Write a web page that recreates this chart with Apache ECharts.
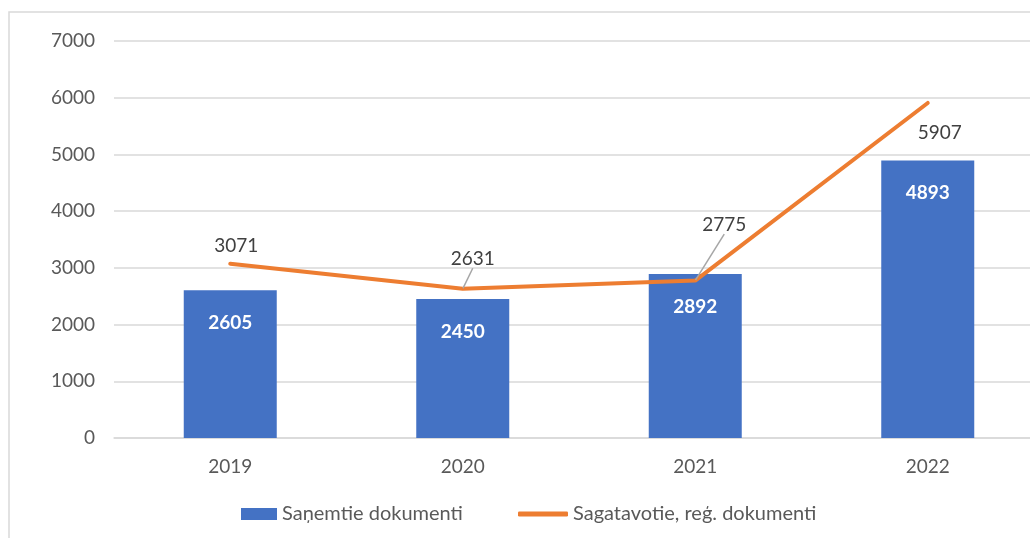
<!DOCTYPE html>
<html>
<head>
<meta charset="utf-8">
<script src="https://cdn.jsdelivr.net/npm/echarts@6/dist/echarts.min.js"></script>
<style>
  html, body { margin: 0; padding: 0; background: #fff; overflow: hidden; }
  #chart { width: 1044px; height: 538px; }
</style>
</head>
<body>
<div id="chart"></div>
<script>
const years = ['2019', '2020', '2021', '2022']
const received = [2605, 2450, 2892, 4893]
const prepared = [3071, 2631, 2775, 5907]
const yTicks = [0, 1000, 2000, 3000, 4000, 5000, 6000, 7000]

const receivedName = 'Saņemtie dokumenti'
const preparedName = 'Sagatavotie, reģ. dokumenti'

// label nudges for the line, like the moved labels in the original
const lineLabelShift = [[6, -8], [10, -20], [29, -46], [12, 40]]
const withLeader = [false, true, true, false]

const font = 'Lato, "Open Sans", sans-serif'
const grey = '#595959'

const chart = echarts.init(document.getElementById('chart'))

chart.setOption({
    backgroundColor: '#fff',
    textStyle: { fontFamily: font },
    graphic: [{
        type: 'rect',
        shape: { x: 9, y: 12, width: 1060, height: 560 },
        style: { fill: 'none', stroke: '#d9d9d9', lineWidth: 1.5 },
        silent: true
    }],
    legend: [
        {
            left: 241,
            bottom: 14,
            padding: 0,
            itemWidth: 36,
            itemHeight: 12,
            textStyle: { color: grey, fontSize: 20, fontFamily: font },
            data: [{ name: receivedName, icon: 'rect' }]
        },
        {
            left: 518,
            bottom: 14,
            padding: 0,
            itemWidth: 50,
            itemHeight: 5,
            textStyle: { color: grey, fontSize: 20, fontFamily: font },
            data: [{ name: preparedName, icon: 'roundRect' }]
        }
    ],
    grid: { left: 114, right: 0, top: 41, bottom: 100 },
    xAxis: {
        type: 'category',
        data: years,
        axisTick: { show: false },
        axisLine: { lineStyle: { color: '#d9d9d9', width: 1.5 } },
        axisLabel: { color: grey, fontSize: 19, margin: 19 }
    },
    yAxis: {
        type: 'value',
        min: yTicks[0],
        max: yTicks[yTicks.length - 1],
        interval: 1000,
        axisLine: { show: false },
        axisTick: { show: false },
        axisLabel: { color: grey, fontSize: 19, margin: 19, formatter: v => String(v) },
        splitLine: { lineStyle: { color: '#d9d9d9', width: 1.5 } }
    },
    series: [
        {
            name: receivedName,
            type: 'bar',
            data: received,
            barWidth: '40%',
            itemStyle: { color: '#4472C4' },
            label: {
                show: true,
                position: 'insideTop',
                distance: 23,
                color: '#fff',
                fontWeight: 'bold',
                fontSize: 19
            }
        },
        {
            name: preparedName,
            type: 'line',
            data: prepared.map((v, i) => ({ value: v, labelLine: { show: withLeader[i] } })),
            showSymbol: true,
            symbol: 'circle',
            symbolSize: 1,
            lineStyle: { color: '#ED7D31', width: 4, cap: 'round' },
            itemStyle: { color: '#ED7D31' },
            label: {
                show: true,
                position: 'top',
                distance: 0,
                color: '#404040',
                fontSize: 19
            },
            labelLine: {
                show: true,
                lineStyle: { color: '#a6a6a6', width: 1.5 }
            },
            labelLayout: function (p) {
                const s = lineLabelShift[p.dataIndex]
                return { dx: s[0], dy: s[1] }
            },
            z: 3
        }
    ]
})
</script>
</body>
</html>
